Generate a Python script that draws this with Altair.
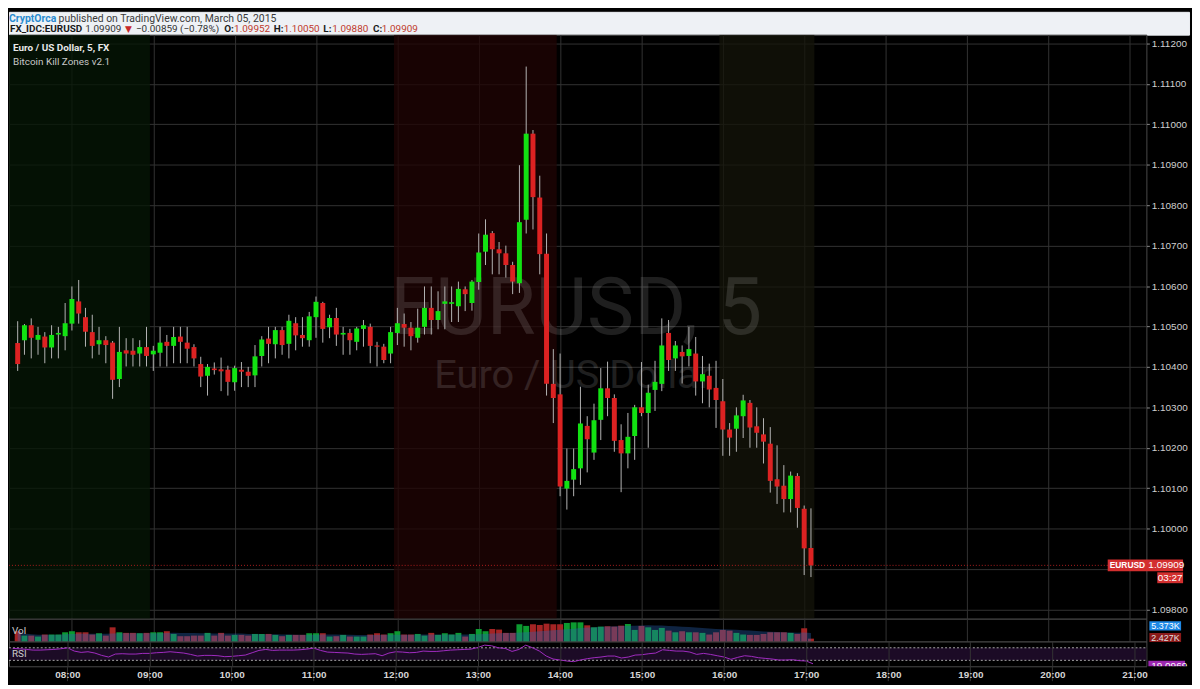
import altair as alt
import pandas as pd

# ---------------- data ----------------
first_bar_minute = 440  # 07:20, one bar every 5 minutes

opens = [1.10459, 1.10466, 1.10503, 1.10467, 1.10475, 1.10448, 1.10480, 1.10476, 1.10507, 1.10562,
         1.10523, 1.10486, 1.10456, 1.10466, 1.10460, 1.10370, 1.10441, 1.10440, 1.10433, 1.10449,
         1.10431, 1.10435, 1.10462, 1.10452, 1.10475, 1.10460, 1.10449, 1.10407, 1.10378, 1.10396,
         1.10394, 1.10393, 1.10362, 1.10393, 1.10388, 1.10379, 1.10427, 1.10470, 1.10456, 1.10491,
         1.10457, 1.10508, 1.10479, 1.10466, 1.10523, 1.10558, 1.10498, 1.10521, 1.10480, 1.10484,
         1.10462, 1.10494, 1.10499, 1.10453, 1.10450, 1.10433, 1.10484, 1.10506, 1.10497, 1.10472,
         1.10499, 1.10546, 1.10516, 1.10556, 1.10556, 1.10550, 1.10592, 1.10558, 1.10610, 1.10685,
         1.10731, 1.10691, 1.10681, 1.10652, 1.10607, 1.10764, 1.10977, 1.10819, 1.10680, 1.10358,
         1.10332, 1.10099, 1.10121, 1.10149, 1.10254, 1.10188, 1.10269, 1.10347, 1.10323, 1.10219,
         1.10186, 1.10229, 1.10300, 1.10286, 1.10343, 1.10358, 1.10484, 1.10421, 1.10437, 1.10427,
         1.10433, 1.10364, 1.10378, 1.10348, 1.10315, 1.10245, 1.10247, 1.10278, 1.10311, 1.10253,
         1.10233, 1.10210, 1.10122, 1.10106, 1.10073, 1.10130, 1.10049, 1.09952]

highs = [1.10513, 1.10506, 1.10520, 1.10499, 1.10486, 1.10503, 1.10499, 1.10558, 1.10599, 1.10615,
         1.10546, 1.10529, 1.10499, 1.10476, 1.10464, 1.10499, 1.10471, 1.10471, 1.10466, 1.10499,
         1.10452, 1.10499, 1.10479, 1.10499, 1.10499, 1.10499, 1.10456, 1.10425, 1.10407, 1.10411,
         1.10423, 1.10403, 1.10403, 1.10412, 1.10400, 1.10454, 1.10476, 1.10499, 1.10499, 1.10499,
         1.10529, 1.10523, 1.10523, 1.10536, 1.10574, 1.10561, 1.10529, 1.10546, 1.10499, 1.10494,
         1.10499, 1.10516, 1.10507, 1.10462, 1.10457, 1.10499, 1.10546, 1.10532, 1.10511, 1.10544,
         1.10599, 1.10599, 1.10587, 1.10599, 1.10599, 1.10611, 1.10599, 1.10615, 1.10730, 1.10765,
         1.10736, 1.10709, 1.10700, 1.10660, 1.10899, 1.11143, 1.10986, 1.10873, 1.10730, 1.10444,
         1.10433, 1.10198, 1.10198, 1.10351, 1.10278, 1.10309, 1.10397, 1.10413, 1.10332, 1.10258,
         1.10286, 1.10306, 1.10412, 1.10356, 1.10415, 1.10520, 1.10516, 1.10464, 1.10453, 1.10499,
         1.10474, 1.10427, 1.10408, 1.10415, 1.10370, 1.10261, 1.10300, 1.10331, 1.10318, 1.10300,
         1.10273, 1.10251, 1.10206, 1.10157, 1.10141, 1.10137, 1.10057, 1.10050]

lows = [1.10390, 1.10430, 1.10421, 1.10430, 1.10409, 1.10421, 1.10421, 1.10441, 1.10490, 1.10507,
        1.10450, 1.10421, 1.10430, 1.10409, 1.10321, 1.10350, 1.10401, 1.10401, 1.10401, 1.10401,
        1.10390, 1.10401, 1.10401, 1.10409, 1.10409, 1.10409, 1.10401, 1.10350, 1.10329, 1.10381,
        1.10340, 1.10329, 1.10341, 1.10350, 1.10350, 1.10350, 1.10401, 1.10409, 1.10421, 1.10430,
        1.10421, 1.10441, 1.10450, 1.10450, 1.10472, 1.10460, 1.10471, 1.10452, 1.10430, 1.10430,
        1.10441, 1.10450, 1.10409, 1.10401, 1.10409, 1.10409, 1.10454, 1.10450, 1.10441, 1.10460,
        1.10480, 1.10480, 1.10493, 1.10493, 1.10511, 1.10511, 1.10538, 1.10539, 1.10591, 1.10652,
        1.10629, 1.10629, 1.10621, 1.10580, 1.10583, 1.10730, 1.10740, 1.10629, 1.10329, 1.10261,
        1.10080, 1.10047, 1.10080, 1.10108, 1.10139, 1.10170, 1.10219, 1.10278, 1.10190, 1.10090,
        1.10149, 1.10170, 1.10278, 1.10200, 1.10291, 1.10340, 1.10390, 1.10390, 1.10359, 1.10401,
        1.10329, 1.10310, 1.10300, 1.10249, 1.10180, 1.10180, 1.10190, 1.10224, 1.10200, 1.10200,
        1.10161, 1.10089, 1.10061, 1.10040, 1.10040, 1.10002, 1.09885, 1.09880]

closes = [1.10407, 1.10503, 1.10472, 1.10479, 1.10448, 1.10479, 1.10484, 1.10508, 1.10568, 1.10532,
          1.10487, 1.10452, 1.10466, 1.10454, 1.10368, 1.10437, 1.10433, 1.10430, 1.10449, 1.10427,
          1.10440, 1.10460, 1.10452, 1.10474, 1.10462, 1.10445, 1.10421, 1.10376, 1.10400, 1.10392,
          1.10389, 1.10363, 1.10397, 1.10388, 1.10378, 1.10426, 1.10468, 1.10457, 1.10491, 1.10454,
          1.10514, 1.10478, 1.10471, 1.10525, 1.10561, 1.10494, 1.10521, 1.10480, 1.10484, 1.10466,
          1.10495, 1.10503, 1.10452, 1.10450, 1.10417, 1.10486, 1.10508, 1.10497, 1.10476, 1.10497,
          1.10546, 1.10516, 1.10538, 1.10562, 1.10560, 1.10593, 1.10580, 1.10611, 1.10683, 1.10727,
          1.10691, 1.10681, 1.10652, 1.10611, 1.10758, 1.10977, 1.10820, 1.10679, 1.10358, 1.10323,
          1.10104, 1.10118, 1.10147, 1.10260, 1.10221, 1.10268, 1.10347, 1.10323, 1.10217, 1.10186,
          1.10227, 1.10300, 1.10286, 1.10336, 1.10363, 1.10453, 1.10417, 1.10453, 1.10426, 1.10444,
          1.10364, 1.10382, 1.10344, 1.10318, 1.10245, 1.10225, 1.10280, 1.10317, 1.10250, 1.10237,
          1.10215, 1.10118, 1.10104, 1.10073, 1.10131, 1.10051, 1.09951, 1.09909]

volumes_k = [8.7, 5.0, 5.0, 4.2, 5.9, 5.9, 5.9, 7.8, 8.7, 7.8,
             7.8, 5.9, 7.0, 5.0, 12.0, 7.8, 7.3, 7.3, 7.0, 7.3,
             7.8, 7.8, 8.7, 6.4, 4.5, 4.5, 5.0, 5.0, 7.3, 5.0,
             7.3, 5.0, 5.6, 5.6, 5.0, 6.4, 6.4, 6.4, 5.6, 4.5,
             5.6, 5.6, 5.6, 7.0, 7.0, 7.0, 4.2, 4.5, 5.6, 4.2,
             4.2, 4.2, 5.9, 7.0, 5.9, 7.0, 8.7, 5.9, 5.9, 6.4,
             5.0, 7.3, 5.6, 7.0, 5.9, 7.3, 4.2, 6.4, 10.6, 8.7,
             10.6, 10.1, 7.3, 7.3, 14.6, 13.2, 14.6, 14.0, 15.1, 14.6,
             14.6, 15.7, 16.2, 16.2, 13.7, 12.0, 12.6, 12.9, 12.6, 13.4,
             14.8, 9.8, 13.2, 12.0, 9.8, 11.5, 9.2, 7.8, 8.7, 7.8,
             7.8, 7.3, 5.9, 7.8, 9.8, 9.2, 7.3, 5.9, 5.6, 5.6,
             6.4, 7.8, 7.8, 7.8, 7.3, 6.4, 11.2, 2.427]

rsi_values = [67.9, 66.8, 64.7, 62.6, 62.6, 63.7, 64.7, 66.8, 70.0, 59.5,
              55.3, 57.4, 53.2, 45.8, 40.5, 50.0, 51.1, 50.0, 50.0, 52.1,
              52.1, 54.2, 55.3, 57.4, 55.3, 53.2, 48.9, 43.7, 45.8, 45.8,
              44.7, 41.6, 42.6, 44.7, 46.8, 54.2, 61.6, 64.7, 61.6, 62.6,
              62.6, 62.6, 63.7, 65.8, 68.9, 61.6, 56.3, 55.3, 54.2, 53.2,
              50.0, 48.9, 50.0, 51.1, 44.7, 53.2, 57.4, 56.3, 54.2, 55.3,
              59.5, 58.4, 58.4, 60.5, 62.6, 63.7, 64.7, 65.8, 71.1, 78.4,
              76.3, 70.0, 67.9, 58.4, 64.7, 78.4, 70.0, 59.5, 43.7, 34.2,
              31.1, 27.9, 25.8, 31.1, 35.3, 38.4, 40.5, 43.7, 43.7, 37.4,
              40.5, 46.8, 47.9, 51.1, 53.2, 63.7, 61.6, 59.5, 59.5, 56.3,
              48.9, 52.1, 48.9, 44.7, 40.5, 33.2, 39.5, 44.7, 42.6, 38.4,
              36.3, 34.2, 31.1, 31.1, 32.1, 28.9, 27.9, 19.0969]

# kill zones (minutes from midnight)
zone_names = ["asia", "london", "newyork"]
zone_start = [420, 717.5, 957.5]
zone_end = [537.5, 837.5, 1027.5]

rsi_levels = [30, 70]
hour_ticks = list(range(480, 1261, 60))
price_ticks = [round(1.098 + 0.001 * i, 3) for i in range(15)]

# ---------------- tables ----------------
times = [first_bar_minute + 5 * i for i in range(len(closes))]
bars = pd.DataFrame(dict(t=times, o=opens, h=highs, l=lows, c=closes,
                         v=volumes_k, rsi=rsi_values))
zones = pd.DataFrame(dict(zone=zone_names, start=zone_start, end=zone_end))
last = pd.DataFrame(dict(p=[closes[-1]], v=[volumes_k[-1]], r=[rsi_values[-1]]))
hours_df = pd.DataFrame(dict(hr=hour_ticks))
levels_df = pd.DataFrame(dict(lo=[rsi_levels[0]], hi=[rsi_levels[1]]))
lines_df = pd.DataFrame(dict(lv=rsi_levels))
one = pd.DataFrame(dict(k=[0]))

# ---------------- styling ----------------
GRID = "#333333"
FRAME = "#4a4a4a"
W = 1147
H_MAIN, H_VOL, H_RSI = 589, 23, 25
X_DOMAIN = [437.25, 1268.7]
UP, DOWN = "#12e212", "#dc2222"
IS_UP = "datum.c >= datum.o"

xscale = alt.Scale(domain=X_DOMAIN, nice=False, zero=False)
grid_axis = alt.Axis(values=hour_ticks, grid=True, gridColor=GRID, labels=False,
                     ticks=False, domain=False, title=None)
bottom_axis = alt.Axis(values=hour_ticks, grid=True, gridColor=GRID, ticks=False, domain=False,
                       labelExpr="(floor(datum.value/60) < 10 ? '0' : '') + floor(datum.value/60) + ':00'",
                       labelColor="#d4d4d4", labelFontSize=10, labelFontWeight="bold",
                       labelFont="Liberation Sans", labelPadding=3, labelOverlap=False,
                       title=None, zindex=1)


def X(field, axis=grid_axis):
    return alt.X(field, type="quantitative", scale=xscale, axis=axis)


yscale_main = alt.Scale(domain=[1.09777, 1.11222], nice=False, zero=False)
yaxis_main = alt.Axis(orient="right", values=price_ticks, grid=True, gridColor=GRID,
                      labelExpr=f"abs(datum.value - {closes[-1]}) < 0.0005 ? '' : format(datum.value, '.5f')",
                      tickColor="#8a8a8a", tickSize=3, labelPadding=2, labelColor="#cfcfcf",
                      labelFontSize=10, labelFont="Liberation Sans", domain=False, title=None)


def YM(field):
    return alt.Y(field, type="quantitative", scale=yscale_main, axis=yaxis_main)


def txt(s, x, y, color, size=11, weight="normal", font="Roboto", align="left",
        baseline="middle", opacity=1.0):
    return alt.Chart(one).mark_text(text=s, align=align, baseline=baseline, color=color,
                                    fontSize=size, fontWeight=weight, font=font,
                                    opacity=opacity).encode(x=alt.value(x), y=alt.value(y))


def box(x1, x2, y1, y2, color):
    return alt.Chart(one).mark_rect(color=color).encode(
        x=alt.value(x1), x2=alt.value(x2), y=alt.value(y1), y2=alt.value(y2))


# ---------------- header ----------------
HB = "#eef1f5"
L1, L2 = 10.5, 20.5
header = alt.layer(
    txt("CryptOrca", 0, L1, "#2a8bd0", 10.5, "bold", baseline="alphabetic"),
    txt("published on TradingView.com, March 05, 2015", 50, L1, "#3a3a3a", 10.5,
        baseline="alphabetic"),
    txt("FX_IDC:EURUSD", 1, L2, "#1a1a1a", 10, "bold", baseline="alphabetic"),
    txt(f"{closes[-1]:.5f}", 77, L2, "#333333", 10, baseline="alphabetic"),
    txt("▼", 117, L2, "#c62828", 9, font="DejaVu Sans", baseline="alphabetic"),
    txt("−0.00859 (−0.78%)", 128, L2, "#333333", 10, baseline="alphabetic"),
    txt("O:", 217, L2, "#1a1a1a", 10, "bold", baseline="alphabetic"),
    txt(f"{opens[-1]:.5f}", 227, L2, "#c0392b", 10, baseline="alphabetic"),
    txt("H:", 267, L2, "#1a1a1a", 10, "bold", baseline="alphabetic"),
    txt(f"{highs[-1]:.5f}", 277, L2, "#c0392b", 10, baseline="alphabetic"),
    txt("L:", 317, L2, "#1a1a1a", 10, "bold", baseline="alphabetic"),
    txt(f"{lows[-1]:.5f}", 326, L2, "#c0392b", 10, baseline="alphabetic"),
    txt("C:", 367, L2, "#1a1a1a", 10, "bold", baseline="alphabetic"),
    txt(f"{closes[-1]:.5f}", 376, L2, "#c0392b", 10, baseline="alphabetic"),
).properties(width=1190, height=23, view=alt.ViewBackground(fill=HB, stroke=HB))

# ---------------- price panel ----------------
zones_layer = alt.Chart(zones).mark_rect(clip=True, opacity=0.75).encode(
    x=X("start"), x2=alt.X2("end"), y=alt.value(0), y2=alt.value(H_MAIN),
    color=alt.Color("zone:N", scale=alt.Scale(domain=zone_names,
                                              range=["#051705", "#200404", "#141409"]),
                    legend=None))

wicks = alt.Chart(bars).mark_rule(color="#b4b4b4", strokeWidth=1).encode(
    x=X("t"), y=YM("l"), y2=alt.Y2("h"))
bodies = alt.Chart(bars).mark_bar(size=5).encode(
    x=X("t"), y=YM("o"), y2=alt.Y2("c"),
    color=alt.condition(IS_UP, alt.value(UP), alt.value(DOWN)))

price_line = alt.Chart(last).mark_rule(color="#b01e1e", strokeDash=[1, 2], strokeWidth=1).encode(
    y=YM("p"), x=alt.value(0), x2=alt.value(1108))
price_box = alt.Chart(last).mark_rect(color="#d32f2f", yOffset=-6, y2Offset=6).encode(
    y=YM("p"), y2=alt.Y2("p"), x=alt.value(1108), x2=alt.value(1184))
time_box = alt.Chart(last).mark_rect(color="#d32f2f", yOffset=7, y2Offset=18).encode(
    y=YM("p"), y2=alt.Y2("p"), x=alt.value(1158), x2=alt.value(1184))
sym_text = alt.Chart(last).mark_text(text="EURUSD", align="left", baseline="middle", color="#ffffff",
                                     fontSize=8.5, fontWeight="bold", font="Liberation Sans").encode(
    y=YM("p"), x=alt.value(1110))
val_text = alt.Chart(last).mark_text(align="left", baseline="middle", color="#ffffff",
                                     fontSize=10, font="Liberation Sans").encode(
    y=YM("p"), x=alt.value(1149), text=alt.Text("p:Q", format=".5f"))
time_text = alt.Chart(last).mark_text(text="03:27", align="center", baseline="middle",
                                      color="#ffffff", fontSize=10, font="Liberation Sans",
                                      dy=12.5).encode(y=YM("p"), x=alt.value(1171))

main = alt.layer(
    zones_layer,
    txt("EURUSD, 5", 572, 302, "#ffffff", 80, baseline="alphabetic", align="center", opacity=0.12),
    txt("Euro / US Dollar", 569, 356, "#ffffff", 40, baseline="alphabetic", align="center",
        opacity=0.12),
    wicks, bodies, price_line, price_box, time_box, sym_text, val_text, time_text,
    txt("Euro / US Dollar, 5, FX", 4, 14, "#e8e8e8", 10, "bold"),
    txt("Bitcoin Kill Zones v2.1", 4, 28, "#c8c8c8", 10),
).properties(width=W, height=H_MAIN, view=alt.ViewBackground(fill="#000000", stroke=FRAME))

# ---------------- volume panel ----------------
yscale_vol = alt.Scale(domain=[0, 19.3], nice=False, zero=True)
vol_bars = alt.Chart(bars).mark_bar(size=6).encode(
    x=X("t"), y=alt.Y("v:Q", scale=yscale_vol, axis=None),
    color=alt.condition(IS_UP, alt.value("#0c9a30"), alt.value("#a42424")))
vol_ma = alt.Chart(bars).transform_window(
    ma="mean(v)", frame=[-19, 0], sort=[alt.SortField("t", order="ascending")]
).mark_area(color="#2a64b8", opacity=0.36).encode(
    x=X("t"), y=alt.Y("ma:Q", scale=yscale_vol, axis=None))

vol = alt.layer(
    vol_bars, vol_ma,
    txt("Vol", 3, 12, "#cccccc", 10),
    box(1150, 1182, 2.5, 12, "#1e88e5"),
    txt("5.373K", 1152, 7.5, "#ffffff", 9, font="Liberation Sans"),
    box(1150, 1182, 14.5, 23.5, "#8b1a1a"),
    txt(f"{volumes_k[-1]:.3f}K", 1152, 19, "#e0e0e0", 9, font="Liberation Sans"),
).properties(width=W, height=H_VOL, view=alt.ViewBackground(fill="#000000", stroke=FRAME))

# ---------------- RSI panel ----------------
yscale_rsi = alt.Scale(domain=[11, 90], nice=False, zero=False)
rsi_band = alt.Chart(levels_df).mark_rect(color="#1c0b26").encode(
    y=alt.Y("lo:Q", scale=yscale_rsi, axis=None), y2=alt.Y2("hi"),
    x=alt.value(0), x2=alt.value(W))
rsi_lines = alt.Chart(lines_df).mark_rule(color="#a8a8a8", strokeDash=[2, 2]).encode(
    y=alt.Y("lv:Q", scale=yscale_rsi, axis=None), x=alt.value(0), x2=alt.value(W))
rsi_line = alt.Chart(bars).mark_line(color="#a02cc0", strokeWidth=1).encode(
    x=X("t", bottom_axis), y=alt.Y("rsi:Q", scale=yscale_rsi, axis=None))
hour_ext = alt.Chart(hours_df).mark_rule(color=GRID).encode(
    x=X("hr", bottom_axis), y=alt.value(H_RSI), y2=alt.value(H_RSI + 15))

rsi = alt.layer(
    rsi_band, rsi_lines, rsi_line, hour_ext,
    txt("RSI", 3, 13, "#cccccc", 10),
    box(1149, 1186, 19.5, 30, "#9c27b0"),
    txt(f"{rsi_values[-1]:.4f}", 1152, 20, "#ffffff", 10,
        font="Liberation Sans", baseline="top"),
    box(1148, 1192, 25, 40, "#000000"),
).properties(width=W, height=H_RSI, view=alt.ViewBackground(fill="#000000", stroke=FRAME))

chart = alt.vconcat(header, main, vol, rsi, spacing=0, bounds="flush",
                    padding=0, background="#000000").configure_view(strokeWidth=1)

chart.save("out.html", embed_options={"renderer": "svg", "actions": False})
